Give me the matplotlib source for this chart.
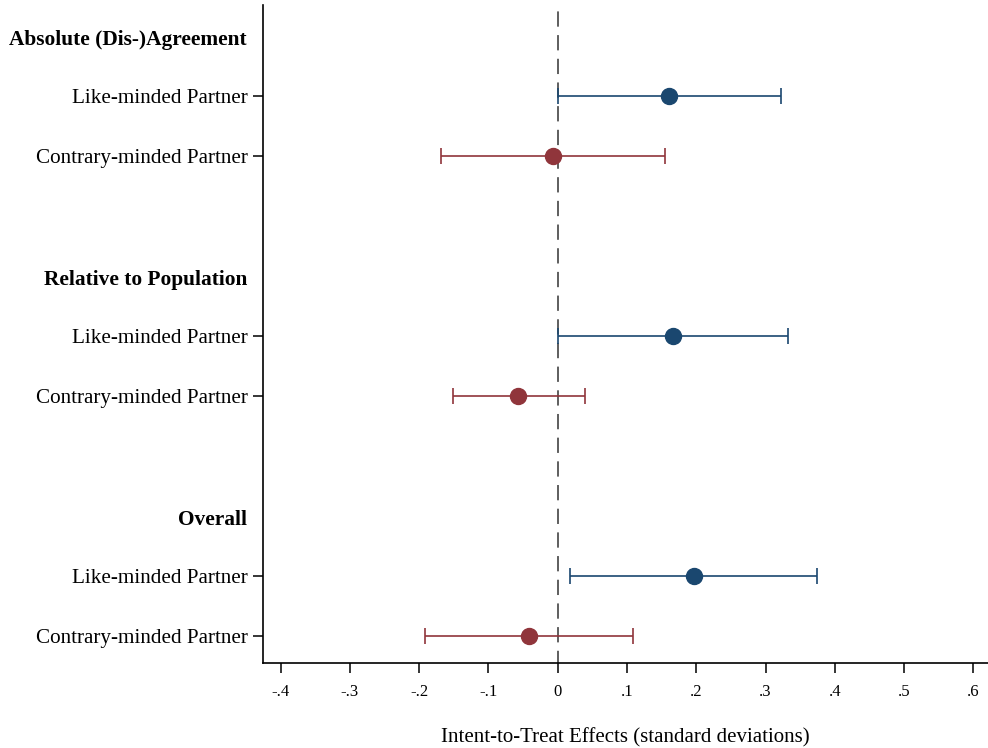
import numpy as np
import matplotlib.pyplot as plt
from matplotlib.transforms import blended_transform_factory

plt.rcParams['font.family'] = ['Liberation Serif', 'DejaVu Serif']

groups = ['Absolute (Dis-)Agreement', 'Relative to Population', 'Overall']
rows = ['Like-minded Partner', 'Contrary-minded Partner']

# point estimates and 95% CI, per group: [like, contrary]
est = [[0.161, -0.007], [0.167, -0.057], [0.196, -0.042]]
lo = [[0.000, -0.168], [0.001, -0.151], [0.017, -0.191]]
hi = [[0.322, 0.155], [0.333, 0.039], [0.374, 0.109]]

navy = '#1a476f'
maroon = '#90353b'
colors = [navy, maroon]

fig = plt.figure(figsize=(9.88, 7.48), dpi=100)
ax = fig.add_axes([0.2662, 0.1136, 0.7338, 0.8797])

ypos = []
ylabels = []
for g in range(len(groups)):
    base = g * 4
    for r in range(2):
        y = base + 1 + r
        e = est[g][r]
        ax.errorbar(e, y, xerr=[[e - lo[g][r]], [hi[g][r] - e]],
                    fmt='o', color=colors[r], ms=11.5, elinewidth=1.2,
                    capsize=6, capthick=1.2, zorder=3)
        ypos.append(y)
        ylabels.append(rows[r])

# zero reference line
ax.axvline(0, color='#333333', lw=1.1, ls=(2, (10, 5.5)), zorder=1)

ax.set_xlim(-0.4254, 0.621)
ax.set_ylim(10.45, -0.52)
ax.set_yticks(ypos)
ax.set_yticklabels(ylabels, fontsize=15.2)
xt = np.arange(-0.4, 0.61, 0.1)
ax.set_xticks(xt)
ax.set_xticklabels(['-.4', '-.3', '-.2', '-.1', '0', '.1', '.2', '.3',
                    '.4', '.5', '.6'], fontsize=12)
ax.tick_params(axis='y', length=7, width=1.1, pad=4)
ax.tick_params(axis='x', length=7, width=1.1, pad=8)
ax.set_xlabel('Intent-to-Treat Effects (standard deviations)', fontsize=15,
              labelpad=20)

trans = blended_transform_factory(fig.transFigure, ax.transData)
for g, name in enumerate(groups):
    ax.text(247 / 988, g * 4 + 0.07, name, transform=trans, ha='right',
            va='center', fontsize=15.4, fontweight='bold')

for s in ['top', 'right']:
    ax.spines[s].set_visible(False)
for s in ['left', 'bottom']:
    ax.spines[s].set_linewidth(1.2)

fig.savefig('out.png', dpi=100)
